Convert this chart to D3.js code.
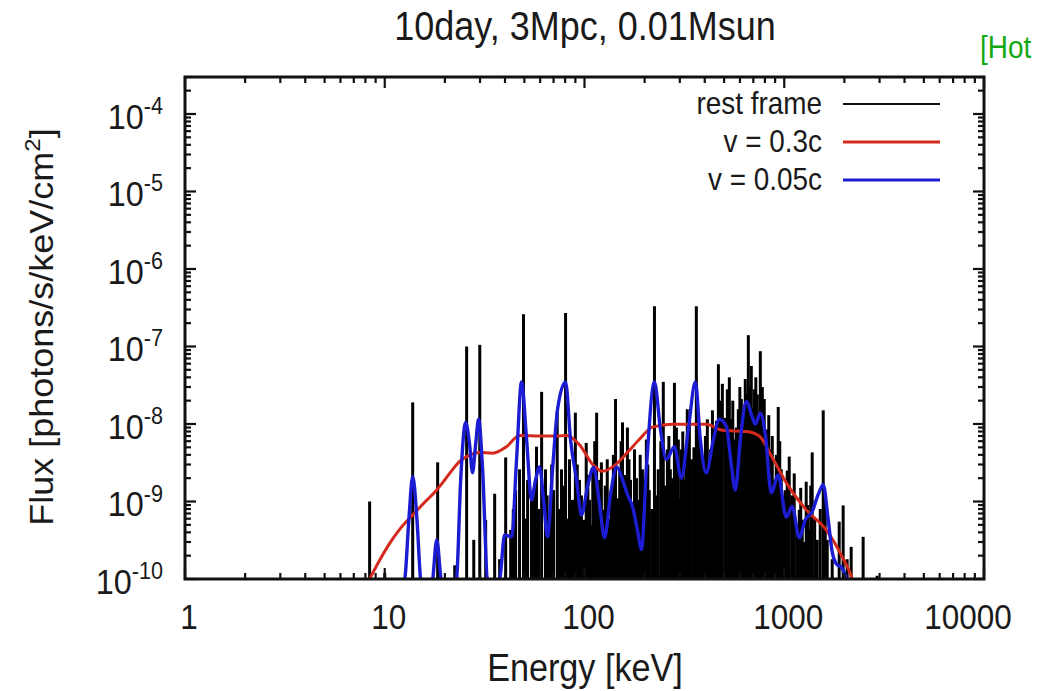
<!DOCTYPE html>
<html>
<head>
<meta charset="utf-8">
<script src="https://cdn.jsdelivr.net/npm/d3@7"></script>
<style>
  body { margin: 0; background: #fff; }
  text { font-family: "Liberation Sans", Arial, sans-serif; fill: #1a1a1a; }
</style>
</head>
<body>
<script>
// rest frame line spectrum: energy [keV] and flux of each spike
var restEnergy = [8.4, 10.0, 13.8, 18.4, 22.4, 25.7, 27.9, 29.9, 32.0, 35.5, 37.6, 40.3, 42.7, 45.2, 47.3,
  49.5, 51.9, 54.3, 57.5, 61.0, 63.8, 66.8, 70.0, 73.0, 76.7, 80.4, 84.1, 87.1, 90.0, 94.4, 98.9,
  102, 106, 110, 115, 119, 124, 130, 136, 143, 150, 155, 164, 170, 178, 186, 195, 204, 211, 224,
  234, 248, 260, 269, 282, 295, 305, 316, 327, 343, 363, 376, 394, 412, 427, 447, 468, 490, 519,
  543, 562, 589, 610, 638, 661, 684, 708, 733, 759, 794, 822, 851, 891, 933, 966, 1012, 1059,
  1122, 1189, 1230, 1288, 1334, 1380, 1462, 1567, 1641, 1738, 1884, 1972, 2065, 2163, 2483, 2917,
  // weaker lines filling the dense part
  44, 50.5, 56, 59, 65, 68.5, 75, 78.5, 82, 92, 96.5, 104, 108, 112.5, 117, 121.5, 127, 133, 139.5,
  146.5, 152.5, 159.5, 167, 174, 182, 190, 199.5, 207.5, 217, 229, 241, 254, 264.5, 275.5, 288.5, 300,
  310.5, 321.5, 335, 353, 369.5, 385, 403, 419.5, 437, 457.5, 479, 504.5, 531, 552.5, 575.5, 599.5,
  624, 649.5, 672.5, 696, 720.5, 746, 776.5, 808, 836.5, 871, 912, 949.5, 989, 1035, 1090, 1155,
  1209, 1259, 1311, 1357, 1420, 1514, 1604]
var restFlux = [1.0e-9, 1.2e-10, 1.9e-8, 3.2e-9, 1.5e-10, 1.0e-7, 3.2e-10, 1.05e-7, 5.8e-10, 1.26e-9, 1.8e-10, 3.7e-9, 4.3e-10, 1.4e-9, 2.6e-9,
  2.6e-7, 1.9e-9, 1.05e-9, 5.1e-9, 2.6e-8, 2.6e-9, 5.8e-10, 1.4e-9, 1.45e-8, 2.6e-9, 2.7e-7, 3.5e-9, 1.05e-9, 1.4e-8, 1.9e-9, 5.8e-10,
  5.7e-9, 1.05e-9, 2.6e-9, 1.4e-8, 1.9e-9, 7.8e-10, 3.5e-9, 1.4e-9, 2.1e-8, 2.6e-9, 1.05e-8, 9.0e-9, 1.9e-9, 4.7e-9, 1.05e-9, 2.6e-9, 6.3e-9, 1.4e-9, 3.3e-7,
  2.6e-9, 3.5e-8, 4.7e-9, 2.6e-9, 3.4e-8, 6.3e-9, 4.7e-9, 1.9e-9, 1.55e-8, 3.5e-9, 3.3e-7, 6.3e-9, 2.6e-9, 1.15e-8, 4.7e-9, 8.5e-9, 5.9e-8, 3.3e-8, 2.8e-8,
  1.15e-8, 6.3e-9, 1.55e-8, 2.1e-8, 3.8e-8, 1.4e-7, 5.6e-8, 2.8e-8, 2.4e-8, 8.7e-8, 2.1e-8, 8.5e-9, 4.7e-9, 1.9e-9, 1.66e-8, 2.6e-9, 1.4e-9, 3.8e-9,
  2.3e-9, 7.8e-10, 5.8e-10, 1.8e-9, 4.3e-10, 4.3e-9, 3.2e-10, 1.5e-8, 3.2e-10, 1.8e-10, 5.5e-10, 8.9e-10, 1.8e-10, 2.6e-10, 3.5e-10, 1.1e-10,
  8e-10, 6e-10, 1.5e-9, 8e-10, 1.2e-9, 3e-9, 8e-10, 1.6e-9, 6e-10, 3e-9, 1.2e-9, 2.2e-9, 5e-10, 6e-9, 7e-10, 3.2e-9, 1.6e-9, 6e-10, 4e-9,
  1.1e-9, 6e-9, 2.2e-9, 3.5e-9, 8e-10, 2e-9, 4e-9, 1.8e-9, 3e-9, 8e-10, 1.2e-9, 6e-9, 1.6e-9, 7e-9, 2e-9, 9e-9, 1.1e-9,
  8e-9, 3e-9, 1.3e-8, 5e-9, 1.2e-8, 4e-9, 7e-9, 2.6e-9, 1.5e-8, 1.1e-8, 2e-8, 1.2e-8, 4e-8, 2e-8, 9e-9, 3e-8,
  1.2e-8, 2.5e-8, 3e-8, 1.6e-8, 4e-8, 1.2e-8, 3e-8, 5e-9, 1.3e-8, 7e-9, 4e-9, 6e-9, 8e-10, 2.5e-9, 1.2e-9, 5e-10,
  1.5e-9, 3e-10, 9e-10, 1.6e-9, 6e-10, 8e-10, 1.1e-9]

// v = 0.3c (broad red curve)
var fastEnergy = [8.4, 9.44, 10.6, 11.9, 13.8, 15.8, 18.2, 20.0, 21.9, 23.7, 25.7, 29.9, 34.7, 40.7, 47.3, 59.6, 72.4,
  81.3, 94.4, 110, 123, 141, 164, 188, 219, 275, 407, 490, 646, 750, 871, 1023, 1288, 1622, 1950, 2188, 2317]
var fastFlux = [1.0e-10, 1.76e-10, 2.9e-10, 4.4e-10, 6.7e-10, 9.7e-10, 1.41e-9, 1.91e-9, 2.6e-9, 3.3e-9, 3.8e-9, 4.3e-9, 4.2e-9, 5.1e-9, 7.1e-9, 7.0e-9, 7.0e-9,
  7.1e-9, 5.4e-9, 3.0e-9, 2.45e-9, 2.9e-9, 4.3e-9, 6.3e-9, 9.1e-9, 9.9e-9, 9.9e-9, 8.3e-9, 8.0e-9, 7.0e-9, 3.7e-9, 1.75e-9, 7.8e-10, 4.3e-10, 1.93e-10, 1.0e-10, 5.4e-11]

// v = 0.05c (blue curve)
var slowEnergy = [11.6, 12.6, 13.2, 13.8, 14.5, 15.1, 15.8, 16.8, 17.4, 18.2, 19.1, 19.7, 21.6, 22.9, 24.0, 25.4, 26.6,
  27.5, 28.5, 29.5, 30.9, 32.7, 35.1, 37.6, 39.8, 43.2, 45.7, 48.4, 51.3, 54.3, 56.9, 59.6, 62.4, 65.3, 69.2, 73.3,
  80.4, 85.1, 91.2, 96.6, 104, 111, 119, 126, 135, 145, 155, 164, 174, 184, 193, 204, 224, 240, 257, 282, 305, 331,
  359, 380, 407, 442, 473, 513, 543, 569, 603, 646, 692, 716, 759, 804, 861, 933, 1023, 1096, 1189, 1274, 1380,
  1479, 1567, 1660, 1738, 1841, 1928, 2018, 2089, 2188]
var slowFlux = [5.4e-11, 1.0e-10, 5.8e-10, 2.1e-9, 5.8e-10, 1.0e-10, 5.4e-11, 5.4e-11, 1.0e-10, 3.2e-10, 1.0e-10, 5.4e-11, 5.4e-11, 1.0e-10, 1.91e-9, 1.05e-8, 5.4e-9,
  2.35e-9, 5.4e-9, 1.15e-8, 2.6e-9, 1.0e-10, 9.1e-11, 1.0e-10, 3.7e-10, 3.5e-10, 3.5e-9, 3.5e-8, 6.3e-9, 1.05e-9, 1.91e-9, 2.8e-9, 1.05e-9, 3.5e-10, 2.6e-9, 1.55e-8,
  3.5e-8, 6.3e-9, 1.91e-9, 6.7e-10, 1.65e-9, 2.75e-9, 9.1e-10, 3.4e-10, 1.23e-9, 2.8e-9, 1.91e-9, 1.23e-9, 8.6e-10, 4.3e-10, 2.4e-10, 2.6e-9, 3.5e-8, 8.5e-9, 3.5e-9, 5.1e-9, 2.0e-9, 8.5e-9,
  3.5e-8, 6.3e-9, 2.35e-9, 6.3e-9, 1.15e-8, 9.3e-9, 3.0e-9, 1.41e-9, 6.3e-9, 1.96e-8, 1.22e-8, 9.9e-9, 1.38e-8, 7.3e-9, 1.3e-9, 2.2e-9, 6.3e-10, 8.6e-10, 3.4e-10, 5.8e-10, 7.4e-10,
  1.23e-9, 1.65e-9, 5.8e-10, 2.24e-10, 1.52e-10, 1.43e-10, 1.13e-10, 8.4e-11, 5.4e-11]

var xTicks = [1, 10, 100, 1000, 10000]
var yTicks = [1e-4, 1e-5, 1e-6, 1e-7, 1e-8, 1e-9, 1e-10]
var legendLabels = ['rest frame', 'v = 0.3c', 'v = 0.05c']
var legendColors = ['#111', '#d42a1e', '#1c1cd2']

var W = 1042, H = 691
var plot = {left: 185, right: 984, top: 77, bottom: 579}
var sx = 0.9   // the source picture is a little squeezed sideways

var svg = d3.select('body').append('svg')
    .attr('width', W).attr('height', H)

var x = d3.scaleLog().domain([1, 10000]).range([plot.left, plot.right])
var y = d3.scaleLog().domain([1e-10, 3e-4]).range([plot.bottom, plot.top])

svg.append('clipPath').attr('id', 'clip')
  .append('rect')
    .attr('x', plot.left).attr('y', plot.top)
    .attr('width', plot.right - plot.left).attr('height', plot.bottom - plot.top)

var zip = function(a, b) { return a.map(function(v, i) { return [v, b[i]] }) }

// rest frame spikes
var spikes = svg.append('g').attr('clip-path', 'url(#clip)')
spikes.selectAll('line')
  .data(zip(restEnergy, restFlux))
  .enter().append('line')
    .attr('x1', function(d) { return x(d[0]) })
    .attr('x2', function(d) { return x(d[0]) })
    .attr('y1', y(1e-10))
    .attr('y2', function(d) { return y(d[1]) })
    .attr('stroke', '#000')
    .attr('stroke-width', 3)

var line = d3.line()
    .x(function(d) { return x(d[0]) })
    .y(function(d) { return y(d[1]) })
    .curve(d3.curveMonotoneX)

var curves = svg.append('g').attr('clip-path', 'url(#clip)')
curves.append('path')
    .attr('d', line(zip(fastEnergy, fastFlux)))
    .attr('fill', 'none').attr('stroke', legendColors[1]).attr('stroke-width', 3)
curves.append('path')
    .attr('d', line(zip(slowEnergy, slowFlux)))
    .attr('fill', 'none').attr('stroke', legendColors[2]).attr('stroke-width', 3.4)

// ticks, inward on all four sides like gnuplot
var isMajor = function(v) { return Math.abs(Math.log10(v) - Math.round(Math.log10(v))) < 1e-6 }
var xMinor = x.ticks().filter(function(v) { return !isMajor(v) })
var yMinor = y.ticks().filter(function(v) { return !isMajor(v) })

var ticks = svg.append('g').attr('stroke', '#111').attr('stroke-width', 2.2)
var xTickSet = xTicks.map(function(v) { return [v, 11] }).concat(xMinor.map(function(v) { return [v, 6] }))
var yTickSet = yTicks.map(function(v) { return [v, 11] }).concat(yMinor.map(function(v) { return [v, 6] }))

ticks.selectAll('.xb').data(xTickSet).enter().append('line')
    .attr('x1', function(d) { return x(d[0]) }).attr('x2', function(d) { return x(d[0]) })
    .attr('y1', plot.bottom).attr('y2', function(d) { return plot.bottom - d[1] })
ticks.selectAll('.xt').data(xTickSet).enter().append('line')
    .attr('x1', function(d) { return x(d[0]) }).attr('x2', function(d) { return x(d[0]) })
    .attr('y1', plot.top).attr('y2', function(d) { return plot.top + d[1] })
ticks.selectAll('.yl').data(yTickSet).enter().append('line')
    .attr('y1', function(d) { return y(d[0]) }).attr('y2', function(d) { return y(d[0]) })
    .attr('x1', plot.left).attr('x2', function(d) { return plot.left + d[1] })
ticks.selectAll('.yr').data(yTickSet).enter().append('line')
    .attr('y1', function(d) { return y(d[0]) }).attr('y2', function(d) { return y(d[0]) })
    .attr('x1', plot.right).attr('x2', function(d) { return plot.right - d[1] })

svg.append('rect')
    .attr('x', plot.left).attr('y', plot.top)
    .attr('width', plot.right - plot.left).attr('height', plot.bottom - plot.top)
    .attr('fill', 'none').attr('stroke', '#111').attr('stroke-width', 3)

// tick labels
svg.selectAll('.x-label')
  .data(xTicks)
  .enter().append('text')
    .attr('class', 'x-label')
    .attr('transform', function(d) { return 'translate(' + Math.min(x(d) + 4, 968) + ',629) scale(' + sx + ',1)' })
    .attr('text-anchor', 'middle')
    .style('font-size', '35px')
    .text(function(d) { return d })

var yLabels = svg.selectAll('.y-label')
  .data(yTicks)
  .enter().append('text')
    .attr('class', 'y-label')
    .attr('transform', function(d) { return 'translate(163,' + (y(d) + 15) + ') scale(' + sx + ',1)' })
    .attr('text-anchor', 'end')
    .style('font-size', '36px')
yLabels.append('tspan').text('10')
yLabels.append('tspan')
    .attr('dy', -15).style('font-size', '24px')
    .text(function(d) { return String(Math.round(Math.log10(d))) })

// titles
svg.append('text')
    .attr('transform', 'translate(585,40) scale(' + sx + ',1)')
    .attr('text-anchor', 'middle')
    .style('font-size', '40px')
    .text('10day, 3Mpc, 0.01Msun')

svg.append('text')
    .attr('transform', 'translate(585,681) scale(' + sx + ',1)')
    .attr('text-anchor', 'middle')
    .style('font-size', '38px')
    .text('Energy [keV]')

var yTitle = svg.append('text')
    .attr('transform', 'translate(53,327) rotate(-90) scale(1,' + sx + ')')
    .attr('text-anchor', 'middle')
    .style('font-size', '36px')
yTitle.append('tspan').text('Flux [photons/s/keV/cm')
yTitle.append('tspan').attr('dy', -14).style('font-size', '24px').text('2')
yTitle.append('tspan').attr('dy', 14).text(']')

svg.append('text')
    .attr('transform', 'translate(980,58) scale(' + sx + ',1)')
    .style('font-size', '31px')
    .style('fill', '#12a812')
    .text('[Hot')

// legend
var legend = svg.selectAll('.legend')
  .data(legendLabels)
  .enter().append('g')
    .attr('class', 'legend')
    .attr('transform', function(d, i) { return 'translate(0,' + (104 + i * 38) + ')' })
legend.append('text')
    .attr('transform', 'translate(822,10) scale(' + sx + ',1)')
    .attr('text-anchor', 'end')
    .style('font-size', '31px')
    .text(function(d) { return d })
legend.append('line')
    .attr('x1', 843).attr('x2', 940).attr('y1', 0).attr('y2', 0)
    .attr('stroke', function(d, i) { return legendColors[i] })
    .attr('stroke-width', function(d, i) { return i === 0 ? 2 : 3.2 })
</script>
</body>
</html>
